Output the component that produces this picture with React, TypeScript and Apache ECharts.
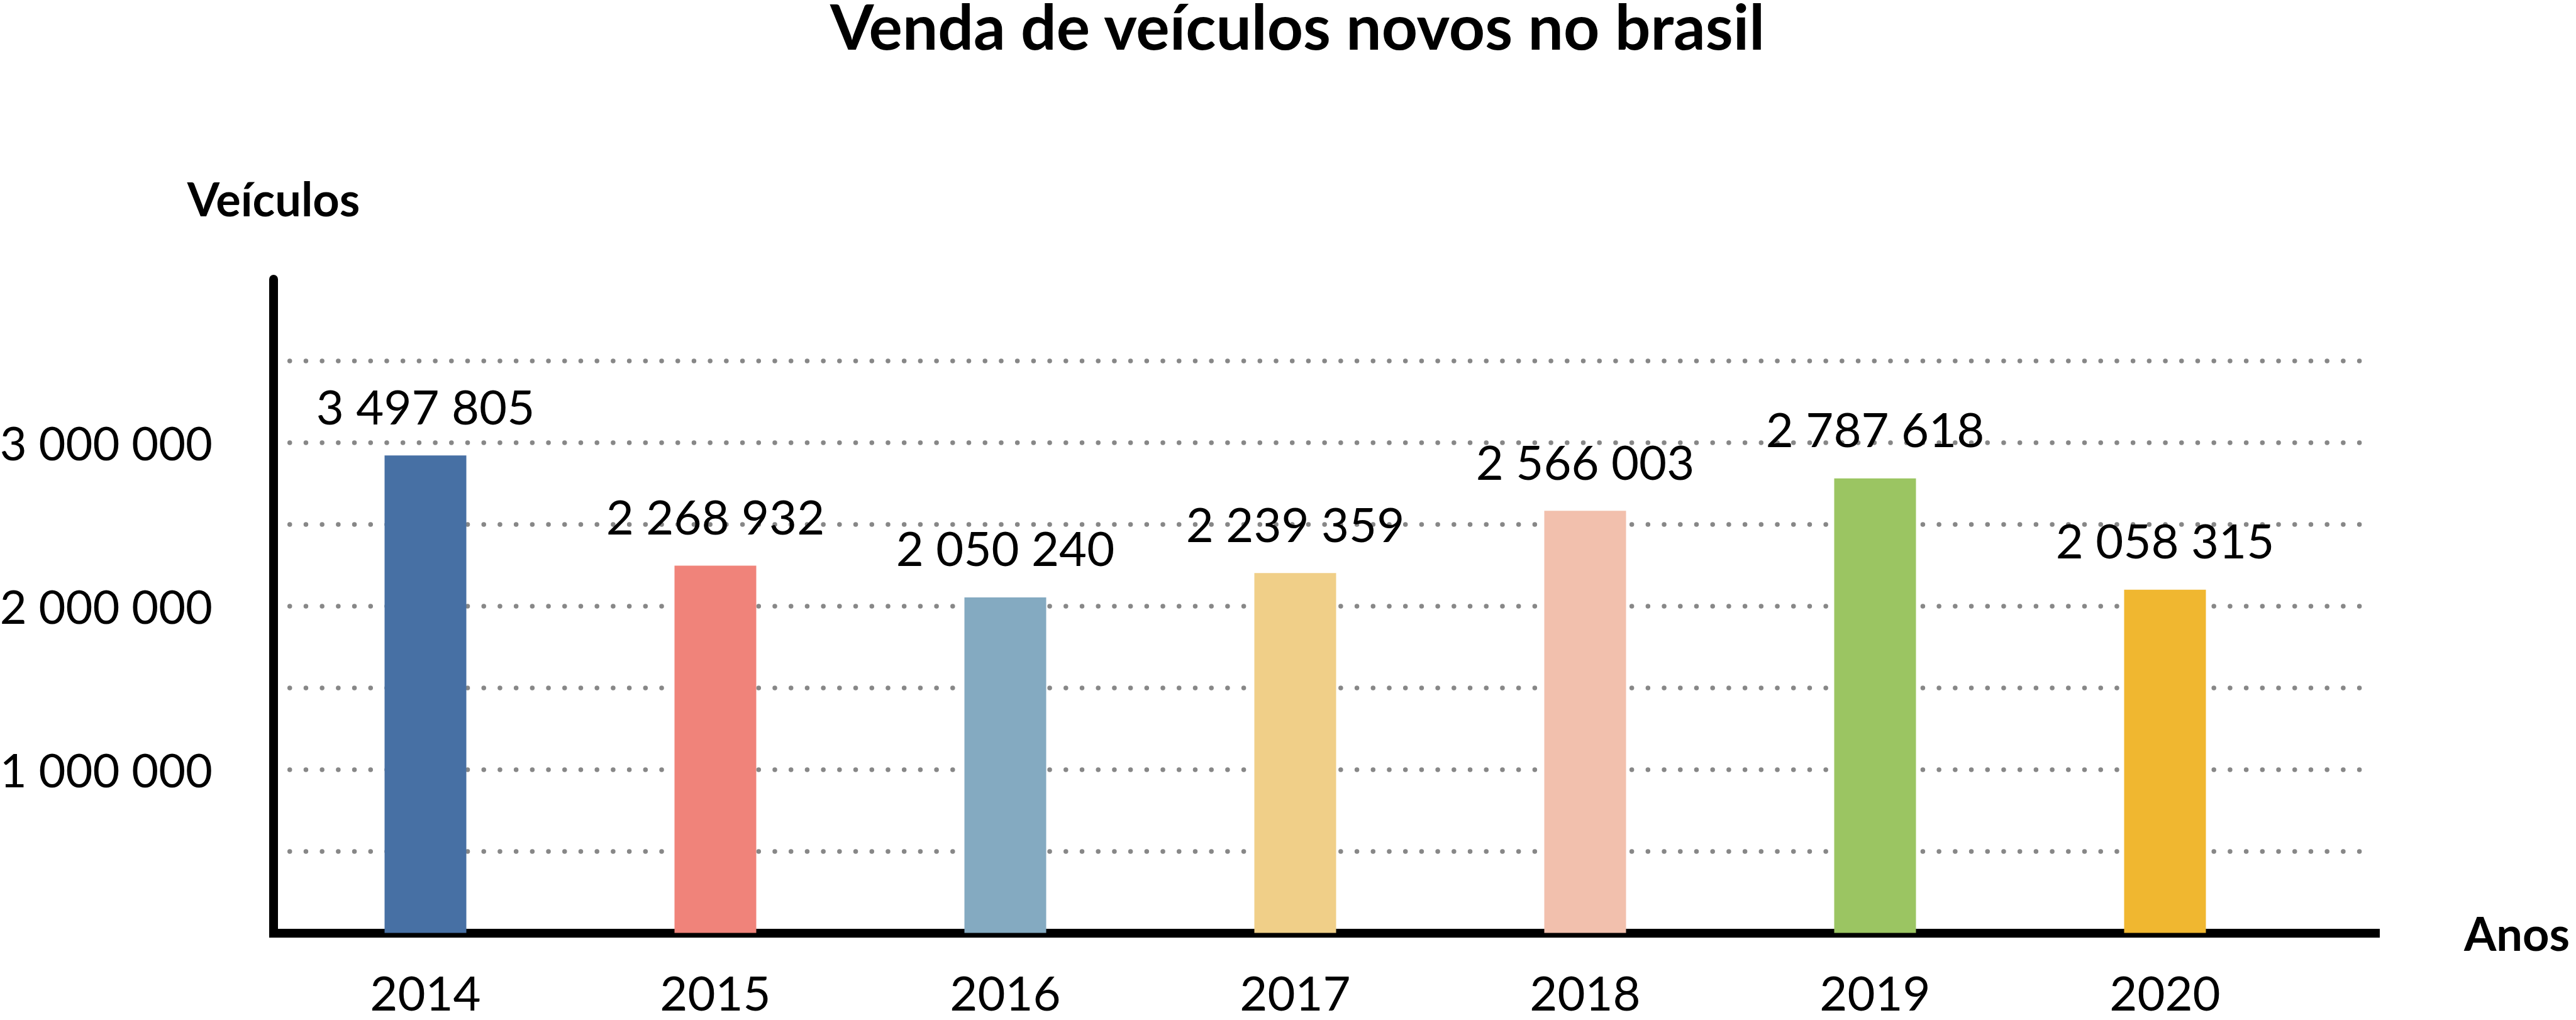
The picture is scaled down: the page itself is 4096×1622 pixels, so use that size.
import React, { useEffect, useRef } from 'react';
import * as echarts from 'echarts';

const TITLE = 'Venda de veículos novos no brasil';
const Y_NAME = 'Veículos';
const X_NAME = 'Anos';
const YEARS = ['2014', '2015', '2016', '2017', '2018', '2019', '2020'];
// bar heights as drawn in the picture
const BAR_HEIGHTS = [2922000, 2247000, 2053000, 2202000, 2583000, 2781000, 2100000];
// values printed above the bars
const LABEL_VALUES = [3497805, 2268932, 2050240, 2239359, 2566003, 2787618, 2058315];
const Y_TICKS = [1000000, 2000000, 3000000];
const BAR_COLORS = ['#4770A4', '#F0837A', '#84AAC1', '#F0CF88', '#F2C0AD', '#9BC562', '#F0B730'];

const FONT = 'Lato';
const fmt = (v: number) => String(v).replace(/\B(?=(\d{3})+(?!\d))/g, ' ');

export default function App() {
  const ref = useRef<HTMLDivElement>(null);
  useEffect(() => {
    if (!ref.current) return;
    const chart = echarts.init(ref.current, undefined, { renderer: 'svg' });
    const option: any = {
      animation: false,
      backgroundColor: '#ffffff',
      title: {
        text: TITLE,
        left: 2063,
        top: 0,
        padding: 0,
        textAlign: 'center',
        textStyle: { fontFamily: FONT, fontWeight: 'bold', fontSize: 100, lineHeight: 80, color: '#000' },
      },
      grid: [
        { left: 435, right: 319, top: 444, bottom: 138.5, containLabel: false, outerBoundsMode: 'none' },
        { left: 446, right: 423, top: 444, bottom: 138.5, containLabel: false, outerBoundsMode: 'none' },
      ],
      xAxis: [
        {
          type: 'value',
          gridIndex: 0,
          min: 0,
          max: 1,
          axisLine: { show: true, lineStyle: { color: '#000', width: 14, cap: 'square' } },
          axisTick: { show: false },
          axisLabel: { show: false },
          splitLine: { show: false },
          name: X_NAME,
          nameLocation: 'end',
          nameGap: 141,
          nameTextStyle: {
            fontFamily: FONT,
            fontWeight: 'bold',
            fontSize: 74,
            color: '#000',
            padding: [0, 0, 25, 0],
          },
        },
        {
          type: 'category',
          gridIndex: 1,
          data: YEARS,
          axisLine: { show: false },
          axisTick: { show: false },
          axisLabel: { margin: 66, lineHeight: 56, fontFamily: FONT, fontSize: 76, color: '#000' },
          splitLine: { show: false },
        },
      ],
      yAxis: [
        {
          type: 'value',
          gridIndex: 0,
          min: 0,
          max: 4000000,
          interval: 500000,
          axisLine: { show: true, lineStyle: { color: '#000', width: 14 } },
          axisTick: { show: false },
          axisLabel: {
            margin: 97,
            fontFamily: FONT,
            fontSize: 74,
            color: '#000',
            formatter: (v: number) => (Y_TICKS.includes(v) ? fmt(v) : ''),
          },
          splitLine: {
            show: true,
            showMinLine: false,
            showMaxLine: false,
            lineStyle: { color: '#878787', width: 7.5, type: [0.01, 25.7], cap: 'round' },
          },
          name: Y_NAME,
          nameLocation: 'end',
          nameGap: 92,
          nameTextStyle: { fontFamily: FONT, fontWeight: 'bold', fontSize: 74, color: '#000' },
        },
        {
          type: 'value',
          gridIndex: 1,
          min: 0,
          max: 4000000,
          show: false,
        },
      ],
      series: [
        {
          type: 'bar',
          xAxisIndex: 1,
          yAxisIndex: 1,
          data: BAR_HEIGHTS,
          barWidth: 130,
          colorBy: 'data',
          color: BAR_COLORS,
          label: {
            show: true,
            position: 'top',
            distance: 41,
            fontFamily: FONT,
            fontSize: 76,
            color: '#000',
            formatter: (p: any) => fmt(LABEL_VALUES[p.dataIndex]),
          },
        },
      ],
    };
    chart.setOption(option);
    return () => chart.dispose();
  }, []);
  return (
    <div
      ref={ref}
      style={{ position: 'absolute', left: 0, top: 0, width: 4096, height: 1622 }}
    />
  );
}
